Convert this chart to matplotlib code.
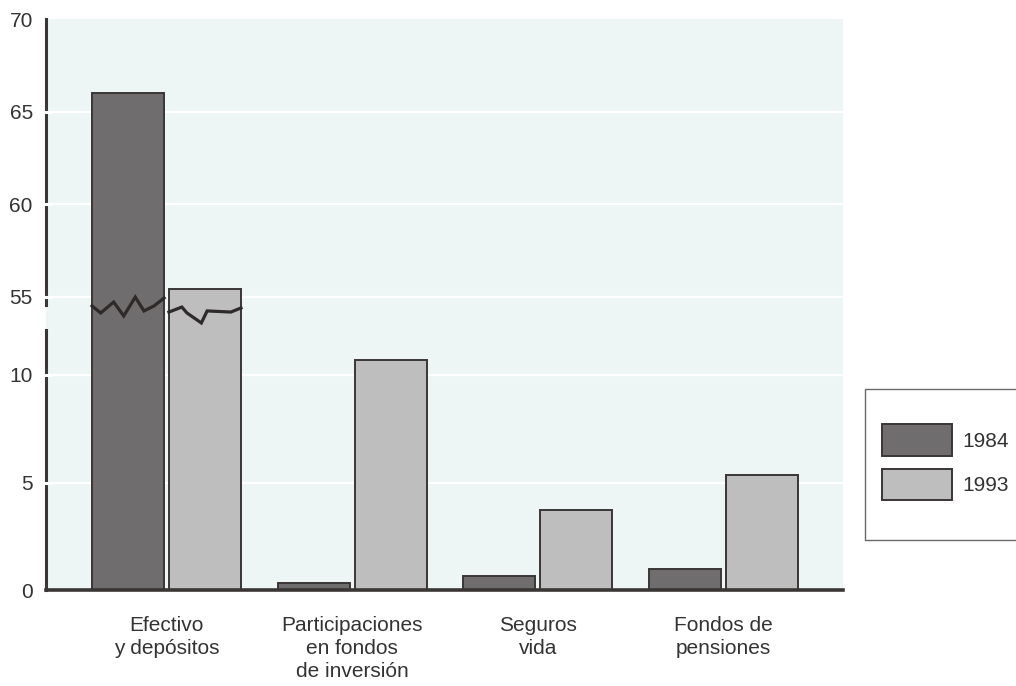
import numpy as np
import matplotlib
matplotlib.use("Agg")
import matplotlib.pyplot as plt
from matplotlib.patches import Rectangle

plt.rcParams['font.family'] = ['Liberation Sans', 'DejaVu Sans']

# porcentaje sobre el total de activos financieros
categorias = ["Efectivo\ny depósitos", "Participaciones\nen fondos\nde inversión",
              "Seguros\nvida", "Fondos de\npensiones"]
anios = ["1984", "1993"]
v1984 = [66.0, 0.33, 0.65, 1.0]
v1993 = [55.4, 10.7, 3.7, 5.35]

ticks_alto = [55, 60, 65, 70]
ticks_bajo = [0, 5, 10]

col_1984 = '#6f6d6d'
col_1993 = '#bfbebe'
borde = '#3b3636'
fondo = '#eef5f5'
texto = '#333333'
tam = 15

# zigzag of the axis break, per bar: (fraction of bar width, y in upper-axis units)
zz_1984 = [(0.0, 54.49), (0.12, 54.11), (0.3, 54.70), (0.44, 53.95),
           (0.6, 54.97), (0.72, 54.22), (0.86, 54.49), (1.0, 54.92)]
zz_1993 = [(0.0, 54.16), (0.18, 54.43), (0.25, 54.11), (0.45, 53.57),
           (0.53, 54.22), (0.86, 54.16), (1.0, 54.38)]

fig = plt.figure(figsize=(10.16, 6.86), dpi=100)
W, H = 1016, 686
ax_top = fig.add_axes([46 / W, (H - 330) / H, 797 / W, 311 / H])
ax_bot = fig.add_axes([46 / W, (H - 590) / H, 797 / W, 260 / H])

x = np.arange(len(categorias))
ancho = 0.388
desp = 0.207

for ax in (ax_top, ax_bot):
    ax.set_facecolor(fondo)
    b1 = ax.bar(x - desp, v1984, ancho, color=col_1984, edgecolor=borde, linewidth=1.4,
                label=anios[0], zorder=2)
    b2 = ax.bar(x + desp, v1993, ancho, color=col_1993, edgecolor=borde, linewidth=1.4,
                label=anios[1], zorder=2)
    ax.set_xlim(-0.649, 3.643)
    for s in ('top', 'right'):
        ax.spines[s].set_visible(False)
    ax.spines['left'].set_color(borde)
    ax.spines['left'].set_linewidth(2.2)
    ax.tick_params(axis='y', length=0, pad=9.5, labelsize=tam, labelcolor=texto)

ax_top.set_ylim(70 - 311 / 18.5, 70)
ax_bot.set_ylim(0, 260 / 21.5)

ax_top.spines['bottom'].set_visible(False)
ax_top.spines['left'].set_bounds(54.54, 70)
ax_top.set_xticks([])
ax_top.set_yticks(ticks_alto)

ax_bot.spines['bottom'].set_color(borde)
ax_bot.spines['bottom'].set_linewidth(2.6)
ax_bot.set_yticks(ticks_bajo)
ax_bot.set_xticks(x)
ax_bot.set_xticklabels(categorias)
ax_bot.tick_params(axis='x', length=0, pad=19, labelsize=tam, labelcolor=texto)
for lab in ax_bot.get_xticklabels():
    lab.set_linespacing(1.25)

# white rules at the inner ticks, cutting through the axis line
for ax, ticks in ((ax_top, ticks_alto[:-1]), (ax_bot, ticks_bajo[1:])):
    for t in ticks:
        ax.axhline(t, color='white', lw=1.6, zorder=1)
        ax.axhline(t, xmin=-0.006, xmax=0.006, color='white', lw=2.2,
                   zorder=4, clip_on=False)

# break marks over the first pair of bars
for xc, zz in ((x[0] - desp, zz_1984), (x[0] + desp, zz_1993)):
    xs = [xc - ancho / 2 + f * ancho for f, _ in zz]
    ys = [y for _, y in zz]
    ax_top.plot(xs, ys, color='#2e2a2a', lw=2.3, zorder=5, clip_on=False,
                solid_joinstyle='miter')

# legend box
fig.patches.append(Rectangle((865 / W, (H - 540) / H), 160 / W, 151 / H,
                             transform=fig.transFigure, facecolor='white',
                             edgecolor='#6a6a6a', lw=1.0, zorder=0))
fs = tam * 100 / 72
fig.legend(handles=[b1, b2], labels=anios, loc='upper left',
           bbox_to_anchor=(872 / W, (H - 414) / H), frameon=False,
           fontsize=tam, labelcolor=texto, borderpad=0,
           handlelength=70 / fs, handleheight=40 / fs,
           handletextpad=10 / fs, labelspacing=13.5 / fs)

fig.savefig('out.png', dpi=100, facecolor='white')
